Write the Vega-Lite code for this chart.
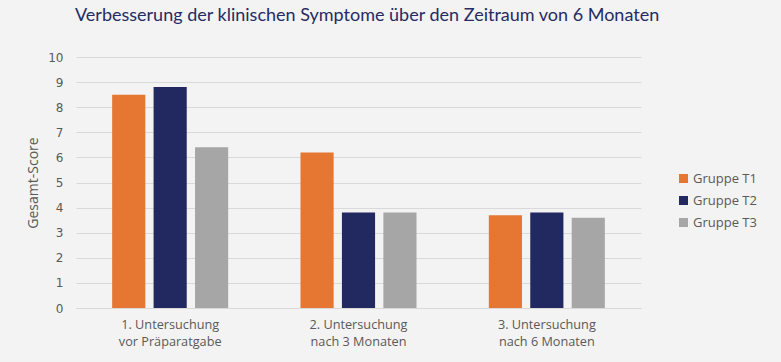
{
  "$schema": "https://vega.github.io/schema/vega-lite/v6.json",
  "width": 565,
  "height": 251,
  "autosize": {"type": "none"},
  "padding": {"left": 76, "top": 57, "right": 140, "bottom": 54},
  "background": "#f3f3f3",
  "title": {
    "text": "Verbesserung der klinischen Symptome über den Zeitraum von 6 Monaten",
    "anchor": "start",
    "frame": "group",
    "font": "Lato",
    "fontSize": 18,
    "fontWeight": "normal",
    "color": "#262b63",
    "offset": 26,
    "dx": -1
  },
  "data": {
    "values": [
      {"untersuchung": "1. Untersuchung|vor Präparatgabe", "gruppe": "Gruppe T1", "score": 8.5},
      {"untersuchung": "1. Untersuchung|vor Präparatgabe", "gruppe": "Gruppe T2", "score": 8.8},
      {"untersuchung": "1. Untersuchung|vor Präparatgabe", "gruppe": "Gruppe T3", "score": 6.4},
      {"untersuchung": "2. Untersuchung|nach 3 Monaten", "gruppe": "Gruppe T1", "score": 6.2},
      {"untersuchung": "2. Untersuchung|nach 3 Monaten", "gruppe": "Gruppe T2", "score": 3.8},
      {"untersuchung": "2. Untersuchung|nach 3 Monaten", "gruppe": "Gruppe T3", "score": 3.8},
      {"untersuchung": "3. Untersuchung|nach 6 Monaten", "gruppe": "Gruppe T1", "score": 3.7},
      {"untersuchung": "3. Untersuchung|nach 6 Monaten", "gruppe": "Gruppe T2", "score": 3.8},
      {"untersuchung": "3. Untersuchung|nach 6 Monaten", "gruppe": "Gruppe T3", "score": 3.6}
    ]
  },
  "mark": {"type": "bar"},
  "encoding": {
    "x": {
      "field": "untersuchung",
      "type": "nominal",
      "sort": null,
      "scale": {"paddingInner": 0.34, "paddingOuter": 0.17},
      "axis": {
        "title": null,
        "labelAngle": 0,
        "labelExpr": "split(datum.label, '|')",
        "labelFont": "Open Sans",
        "labelFontSize": 12.7,
        "labelColor": "#595959",
        "labelLineHeight": 17,
        "labelPadding": 10,
        "ticks": false,
        "domainColor": "#d9d9d9",
        "domainWidth": 1
      }
    },
    "xOffset": {
      "field": "gruppe",
      "type": "nominal",
      "sort": ["Gruppe T1", "Gruppe T2", "Gruppe T3"],
      "scale": {"paddingInner": 0.2, "paddingOuter": 0.1}
    },
    "y": {
      "field": "score",
      "type": "quantitative",
      "scale": {"domain": [0, 10], "nice": false},
      "axis": {
        "title": "Gesamt-Score",
        "titleFont": "Open Sans",
        "titleFontSize": 14,
        "titleFontWeight": "normal",
        "titleColor": "#595959",
        "titlePadding": 7,
        "values": [0, 1, 2, 3, 4, 5, 6, 7, 8, 9, 10],
        "labelFont": "DejaVu Sans",
        "labelFontSize": 12,
        "labelColor": "#595959",
        "labelPadding": 13,
        "ticks": false,
        "domain": false,
        "gridColor": "#d9d9d9",
        "gridWidth": 1
      }
    },
    "color": {
      "field": "gruppe",
      "type": "nominal",
      "scale": {
        "domain": ["Gruppe T1", "Gruppe T2", "Gruppe T3"],
        "range": ["#e57733", "#212960", "#a6a6a6"]
      },
      "legend": {
        "title": null,
        "orient": "none",
        "legendX": 601,
        "legendY": 115,
        "symbolType": "square",
        "symbolSize": 81,
        "symbolStrokeWidth": 0,
        "labelFont": "Open Sans",
        "labelFontSize": 13,
        "labelColor": "#595959",
        "labelOffset": 3,
        "rowPadding": 8
      }
    }
  },
  "config": {
    "view": {"stroke": null}
  }
}
